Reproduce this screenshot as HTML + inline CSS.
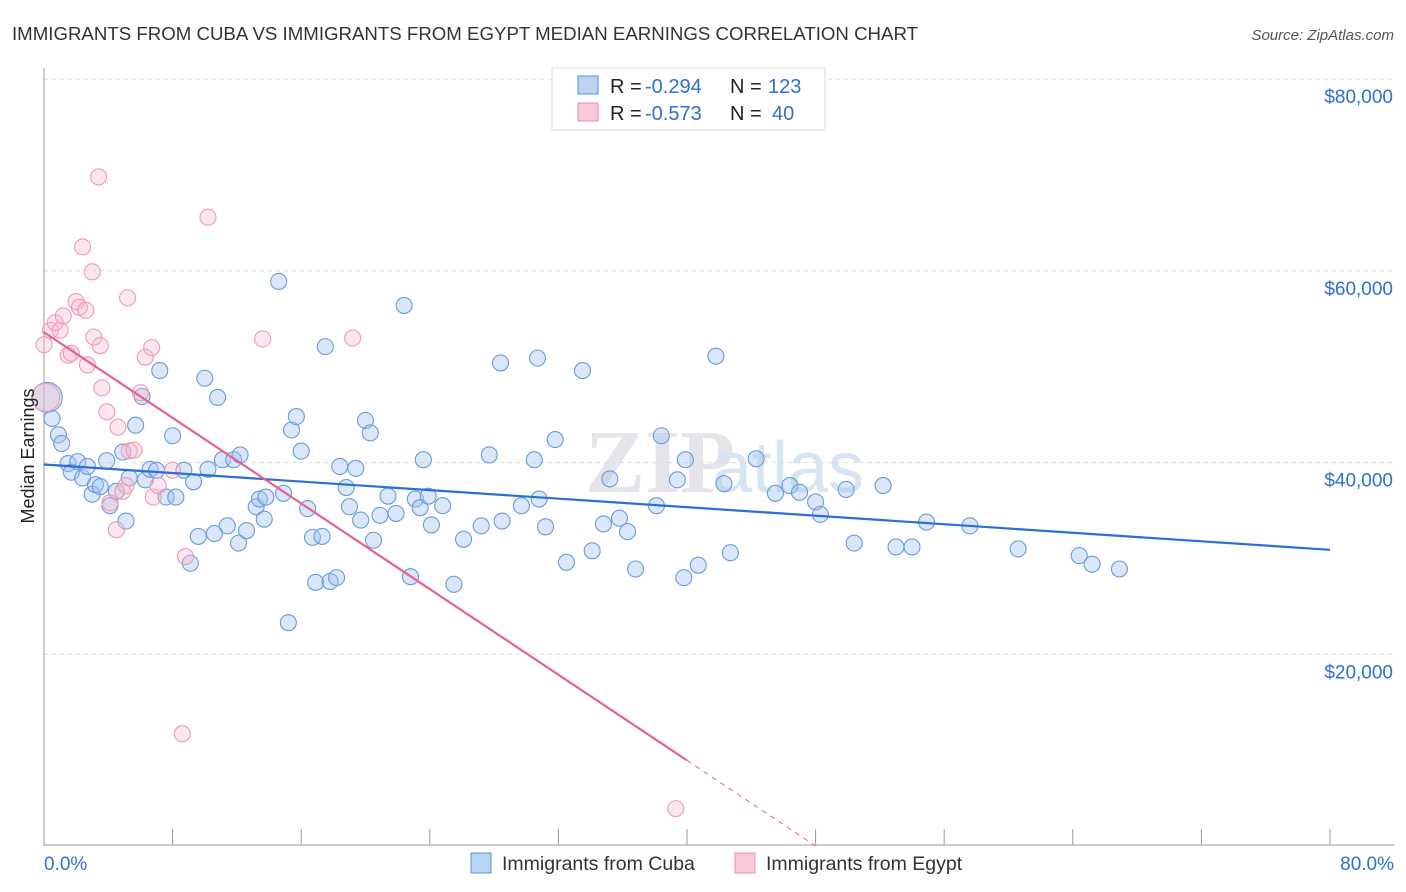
<!DOCTYPE html>
<html><head><meta charset="utf-8"><style>
body{margin:0;background:#fff;font-family:"Liberation Sans",sans-serif}
svg{display:block}
</style></head><body>
<svg id="c" width="1406" height="892">
<text x="12" y="40" font-size="18" fill="#333" textLength="906" lengthAdjust="spacingAndGlyphs">IMMIGRANTS FROM CUBA VS IMMIGRANTS FROM EGYPT MEDIAN EARNINGS CORRELATION CHART</text>
<text x="1394" y="40" font-size="15" fill="#555" font-style="italic" text-anchor="end">Source: ZipAtlas.com</text>
<text x="585" y="492" font-size="90" fill="#e4e4ea" font-weight="bold" font-family="Liberation Serif">ZIP</text>
<text x="712" y="492" font-size="72" fill="#d6e4f4">atlas</text>
<g id="grid"></g><g id="pts"></g><g id="lines"></g>
<text transform="translate(34,456) rotate(-90)" font-size="18" fill="#222" text-anchor="middle">Median Earnings</text>
<g>
<rect x="552" y="68" width="273" height="62" fill="#fff" stroke="#ddd"/>
<rect x="578" y="76" width="20" height="18" fill="#b8d4f5" stroke="#5a8fd6"/>
<rect x="578" y="103" width="20" height="18" fill="#fac8d8" stroke="#e890ac"/>
<text x="610" y="93" font-size="20" fill="#222">R =</text>
<text x="645" y="93" font-size="20" fill="#2f6fd0">-0.294</text>
<text x="730" y="93" font-size="20" fill="#222">N =</text>
<text x="768" y="93" font-size="20" fill="#2f6fd0">123</text>
<text x="610" y="120" font-size="20" fill="#222">R =</text>
<text x="645" y="120" font-size="20" fill="#2f6fd0">-0.573</text>
<text x="730" y="120" font-size="20" fill="#222">N =</text>
<text x="772" y="120" font-size="20" fill="#2f6fd0">40</text>
</g>
<g>
<rect x="471" y="853" width="20" height="20" fill="#b8d4f5" stroke="#5a8fd6"/>
<text x="502" y="870" font-size="19.5" fill="#333">Immigrants from Cuba</text>
<rect x="735" y="853" width="20" height="20" fill="#fac8d8" stroke="#e890ac"/>
<text x="766" y="870" font-size="19.5" fill="#333">Immigrants from Egypt</text>
</g>
</svg>
<script>
const cubaX=[0.2,0.5,0.9,1.1,1.5,1.7,2.1,2.4,2.7,3.0,3.2,3.5,3.9,4.1,4.5,4.9,5.1,5.3,5.7,6.1,6.3,6.6,7.0,7.2,7.6,8.0,8.2,8.7,9.1,9.3,9.6,10.0,10.2,10.6,10.8,11.1,11.4,11.8,12.1,12.2,12.6,13.2,13.4,13.7,13.8,14.6,14.9,15.2,15.4,15.7,16.0,16.4,16.7,16.9,17.3,17.5,17.8,18.2,18.4,18.8,19.0,19.4,19.7,20.0,20.3,20.5,20.9,21.4,21.9,22.4,22.8,23.1,23.4,23.6,23.9,24.1,24.8,25.5,26.1,27.2,27.7,28.4,28.5,29.7,30.5,30.7,30.8,31.2,31.8,32.5,33.5,34.1,34.8,35.2,35.8,36.3,36.8,38.1,38.4,39.4,39.8,39.9,40.7,41.8,42.3,42.7,44.3,45.5,46.4,47.0,48.0,48.3,49.9,50.4,52.2,53.0,54.0,54.9,57.6,60.6,64.4,65.2,66.9];
const cubaY=[46.8,44.6,42.9,42.0,39.9,39.0,40.1,38.4,39.6,36.7,37.7,37.5,40.2,35.5,37.0,41.1,33.9,38.4,43.9,46.9,38.2,39.3,39.2,49.6,36.4,42.8,36.4,39.2,29.5,38.0,32.3,48.8,39.3,32.6,46.8,40.3,33.4,40.3,31.6,40.8,32.9,35.4,36.2,34.1,36.4,58.9,36.8,23.3,43.4,44.8,41.2,35.2,32.2,27.5,32.3,52.1,27.6,28.0,39.6,37.4,35.4,39.4,34.0,44.4,43.1,31.9,34.5,36.5,34.7,56.4,28.1,36.2,35.3,40.3,36.5,33.5,35.5,27.3,32.0,33.4,40.8,50.4,33.9,35.5,40.3,50.9,36.2,33.3,42.4,29.6,49.6,30.8,33.6,38.3,34.2,32.8,28.9,35.5,42.8,38.2,28.0,40.3,29.3,51.1,37.8,30.6,40.4,36.8,37.6,36.9,35.9,34.6,37.2,31.6,37.6,31.2,31.2,33.8,33.4,31.0,30.3,29.4,28.9];
const egyptX=[0.1,0.0,0.4,0.7,1.0,1.2,1.5,1.7,2.0,2.2,2.6,2.7,3.0,3.1,3.4,3.5,3.6,3.9,4.1,4.5,4.6,4.9,5.1,5.2,5.3,5.6,6.0,6.3,6.7,6.8,7.1,8.0,8.8,8.6,10.2,13.6,19.2,2.4,39.3];
const egyptY=[46.8,52.3,53.8,54.6,53.8,55.3,51.2,51.4,56.8,56.2,55.9,50.2,59.9,53.1,69.8,52.2,47.8,45.3,35.8,33.0,43.7,37.0,37.6,57.2,41.2,41.3,47.3,51.0,52.0,36.4,37.6,39.2,30.2,11.7,65.6,52.9,53.0,62.5,3.9];
const cubaTrend=[39.8,30.9];
const egyptTrend=[53.6,0];const egyptSolidEnd=40;
const yTicks=[20,40,60,80];const yTickLabels=["$20,000","$40,000","$60,000","$80,000"];
const xTickCount=10;const xLabels=["0.0%","80.0%"];
const X=v=>44+v*(1286/80), Y=v=>846-v*9.585;
const NS="http://www.w3.org/2000/svg";
function mk(p,t,a){const e=document.createElementNS(NS,t);for(const k in a)e.setAttribute(k,a[k]);p.appendChild(e);return e;}
const g=document.getElementById('grid');
yTicks.forEach((t,i)=>{const l=mk(g,'line',{x1:44,x2:1394,y1:Y(t),y2:Y(t),stroke:'#ddd','stroke-dasharray':'4,4'});


const tx=mk(g,'text',{x:1393,y:Y(t)+24,'font-size':19,fill:'#2f6fd0','text-anchor':'end'});tx.textContent=yTickLabels[i];

});
const ax=mk(g,'line',{x1:44,x2:44,y1:68,y2:846,stroke:'#999'});


const bx=mk(g,'line',{x1:44,x2:1394,y1:845,y2:845,stroke:'#999'});


for(let i=1;i<=xTickCount;i++){const t=mk(g,'line',{x1:X(i*8),x2:X(i*8),y1:829,y2:845,stroke:'#999'});

}
const xl0=mk(g,'text',{x:44,y:870,'font-size':19,fill:'#2f6fd0'});xl0.textContent=xLabels[0];


const xl1=mk(g,'text',{x:1394,y:870,'font-size':19,fill:'#2f6fd0','text-anchor':'end'});xl1.textContent=xLabels[1];


const p=document.getElementById('pts');
cubaX.forEach((x,i)=>{const c=mk(p,'circle',{cx:X(x),cy:Y(cubaY[i]),r:i==0?15:8,fill:'rgba(160,196,240,0.4)',stroke:'#6a9ada','stroke-width':1.1});

});
egyptX.forEach((x,i)=>{const c=mk(p,'circle',{cx:X(x),cy:Y(egyptY[i]),r:i==0?14:8,fill:'rgba(248,184,204,0.35)',stroke:'#ee9ab5','stroke-width':1.1});

});
const L=document.getElementById('lines');
const bl=mk(L,'line',{x1:X(0),y1:Y(cubaTrend[0]),x2:X(80),y2:Y(cubaTrend[1]),stroke:'#2a6fd4','stroke-width':2.2});


const ey=x=>egyptTrend[0]+(egyptTrend[1]-egyptTrend[0])*x/48;
const pl=mk(L,'line',{x1:X(0),y1:Y(ey(0)),x2:X(egyptSolidEnd),y2:Y(ey(egyptSolidEnd)),stroke:'#e8628e','stroke-width':2.2});


const pd=mk(L,'line',{x1:X(egyptSolidEnd),y1:Y(ey(egyptSolidEnd)),x2:X(48),y2:Y(0),stroke:'#e8628e','stroke-width':1,'stroke-dasharray':'5,5'});


</script>
</body></html>
